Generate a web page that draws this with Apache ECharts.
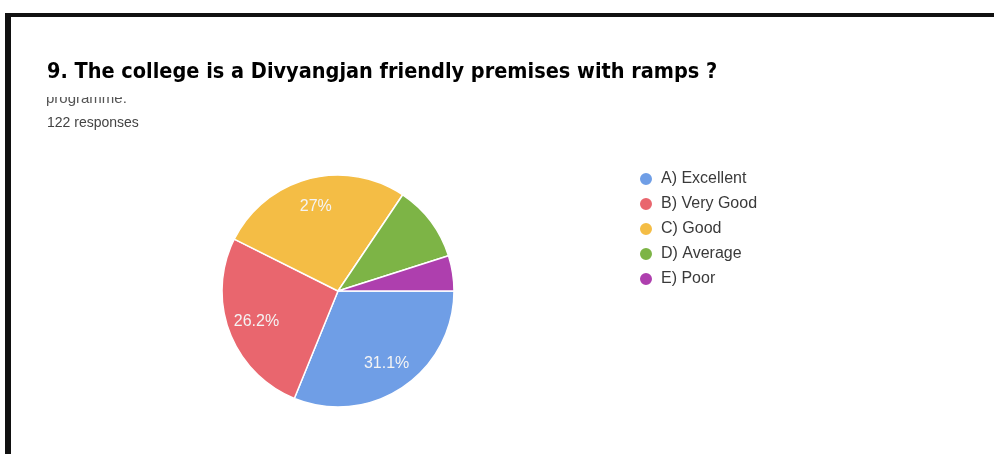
<!DOCTYPE html>
<html>
<head>
<meta charset="utf-8">
<script src="https://cdn.jsdelivr.net/npm/echarts@6/dist/echarts.min.js"></script>
<style>
  html, body { margin: 0; padding: 0; background: #ffffff; }
  #chart { width: 994px; height: 454px; }
</style>
</head>
<body>
<div id="chart"></div>
<script>
// Survey answers: responses per option
const categories = ['A) Excellent', 'B) Very Good', 'C) Good', 'D) Average', 'E) Poor'];
const responses = [38, 32, 33, 13, 6];
const sliceColors = ['#6f9ee6', '#e9666e', '#f4bd45', '#7db446', '#ae3fae'];
const questionTitle = '9. The college is a Divyangjan friendly premises with ramps ?';
const wrappedLine = 'programme.';
const responseNote = '122 responses';

const total = responses.reduce((a, b) => a + b, 0);
const pieData = categories.map((name, i) => ({
  name: name,
  value: responses[i],
  itemStyle: { color: sliceColors[i] }
}));

function pctText(v) {
  const p = Math.round(v / total * 1000) / 10;
  return (p % 1 === 0 ? p.toFixed(0) : p.toFixed(1)) + '%';
}

const chart = echarts.init(document.getElementById('chart'), null, { renderer: 'canvas' });
const center = [338, 291];
const radius = 116;

chart.setOption({
  backgroundColor: '#ffffff',
  animation: false,
  title: {
    text: questionTitle,
    left: 47,
    top: 61,
    padding: 0,
    textStyle: {
      fontFamily: "'DejaVu Sans Condensed', sans-serif",
      fontWeight: 'bold',
      fontSize: 21.5,
      color: '#000000'
    }
  },
  legend: {
    orient: 'vertical',
    left: 638,
    top: 171,
    padding: 0,
    icon: 'circle',
    itemWidth: 14,
    itemHeight: 14,
    itemGap: 9,
    data: categories,
    textStyle: {
      fontFamily: "'Liberation Sans', Arial, sans-serif",
      fontSize: 16,
      color: '#3a3a3a',
      padding: [0, 0, 0, 3]
    }
  },
  graphic: [
    // frame lines
    { type: 'rect', shape: { x: 5, y: 13, width: 989, height: 4 }, style: { fill: '#111111' }, z: 10 },
    { type: 'rect', shape: { x: 5, y: 13, width: 6, height: 441 }, style: { fill: '#111111' }, z: 10 },
    // wrapped question line, partly hidden under the heading
    { type: 'text', left: 46, top: 91, style: { text: wrappedLine, font: "15px 'Liberation Sans', Arial, sans-serif", fill: '#555555' }, z: 1 },
    { type: 'rect', shape: { x: 40, y: 88, width: 200, height: 9 }, style: { fill: '#ffffff' }, z: 2 },
    { type: 'text', left: 47, top: 116, style: { text: responseNote, font: "14px 'Liberation Sans', Arial, sans-serif", fill: '#444444' }, z: 1 }
  ],
  series: [
    {
      type: 'pie',
      center: center,
      radius: [0, radius],
      startAngle: 0,
      clockwise: true,
      data: pieData,
      label: { show: false },
      labelLine: { show: false },
      itemStyle: { borderColor: '#ffffff', borderWidth: 1.5 },
      emphasis: { disabled: true }
    },
    {
      // label ring: places percentages at three quarters of the radius
      type: 'pie',
      center: center,
      radius: [radius * 0.45, radius],
      startAngle: 0,
      clockwise: true,
      silent: true,
      legendHoverLink: false,
      data: pieData.map(d => ({ name: d.name, value: d.value })),
      itemStyle: { color: 'rgba(0,0,0,0)' },
      label: {
        show: true,
        position: 'inside',
        color: '#f4f4f4',
        fontFamily: "'Liberation Sans', Arial, sans-serif",
        fontSize: 16,
        formatter: p => (p.value / total >= 0.15 ? pctText(p.value) : '')
      },
      labelLine: { show: false },
      emphasis: { disabled: true }
    }
  ]
});
</script>
</body>
</html>
